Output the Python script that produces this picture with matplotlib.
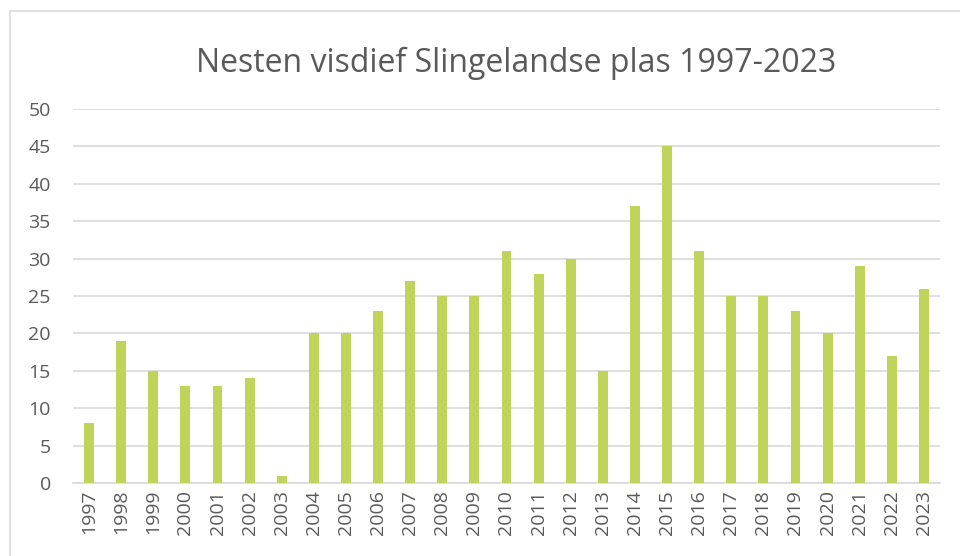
import matplotlib
matplotlib.use("Agg")
import matplotlib.pyplot as plt
from matplotlib.patches import Rectangle

years = [str(y) for y in range(1997, 2024)]
nests = [8, 19, 15, 13, 13, 14, 1, 20, 20, 23, 27, 25, 25, 31, 28, 30, 15, 37, 45, 31, 25, 25, 23, 20, 29, 17, 26]
yticks = [0, 5, 10, 15, 20, 25, 30, 35, 40, 45, 50]
title = "Nesten visdief Slingelandse plas 1997-2023"

plt.rcParams['font.family'] = ['Open Sans', 'DejaVu Sans']
W, H = 960, 556
fig = plt.figure(figsize=(W / 100, H / 100), dpi=100)
fig.patch.set_facecolor('white')

# outer chart border (partially outside image)
fig.add_artist(Rectangle((9.5 / W, -0.1), 1.2, 1 - 10.5 / H + 0.1, transform=fig.transFigure,
                         fill=False, edgecolor='#D9D9D9', linewidth=1.2))

ax = fig.add_axes([73 / W, 1 - 483 / H, (940 - 73) / W, (483 - 109) / H])
x = list(range(len(years)))
ax.bar(x, nests, width=0.31, color='#BFD458', zorder=3)
ax.set_xlim(-0.5, len(years) - 0.5)
ax.set_ylim(0, 50)
ax.set_yticks(yticks)
ax.set_xticks(x)
ax.set_xticklabels(years, rotation=90)
ax.grid(axis='y', color='#D9D9D9', linewidth=1.2, zorder=0)
for s in ['top', 'right', 'left']:
    ax.spines[s].set_visible(False)
ax.spines['bottom'].set_color('#D9D9D9')
ax.spines['bottom'].set_linewidth(1.2)
ax.tick_params(axis='both', length=0, colors='#595959', labelsize=14)
ax.tick_params(axis='y', pad=16)
ax.tick_params(axis='x', pad=5)
fig.text(516 / W, 1 - 63 / H, title, ha='center', va='center', fontsize=23, color='#595959')

fig.savefig('out.png', dpi=100)
